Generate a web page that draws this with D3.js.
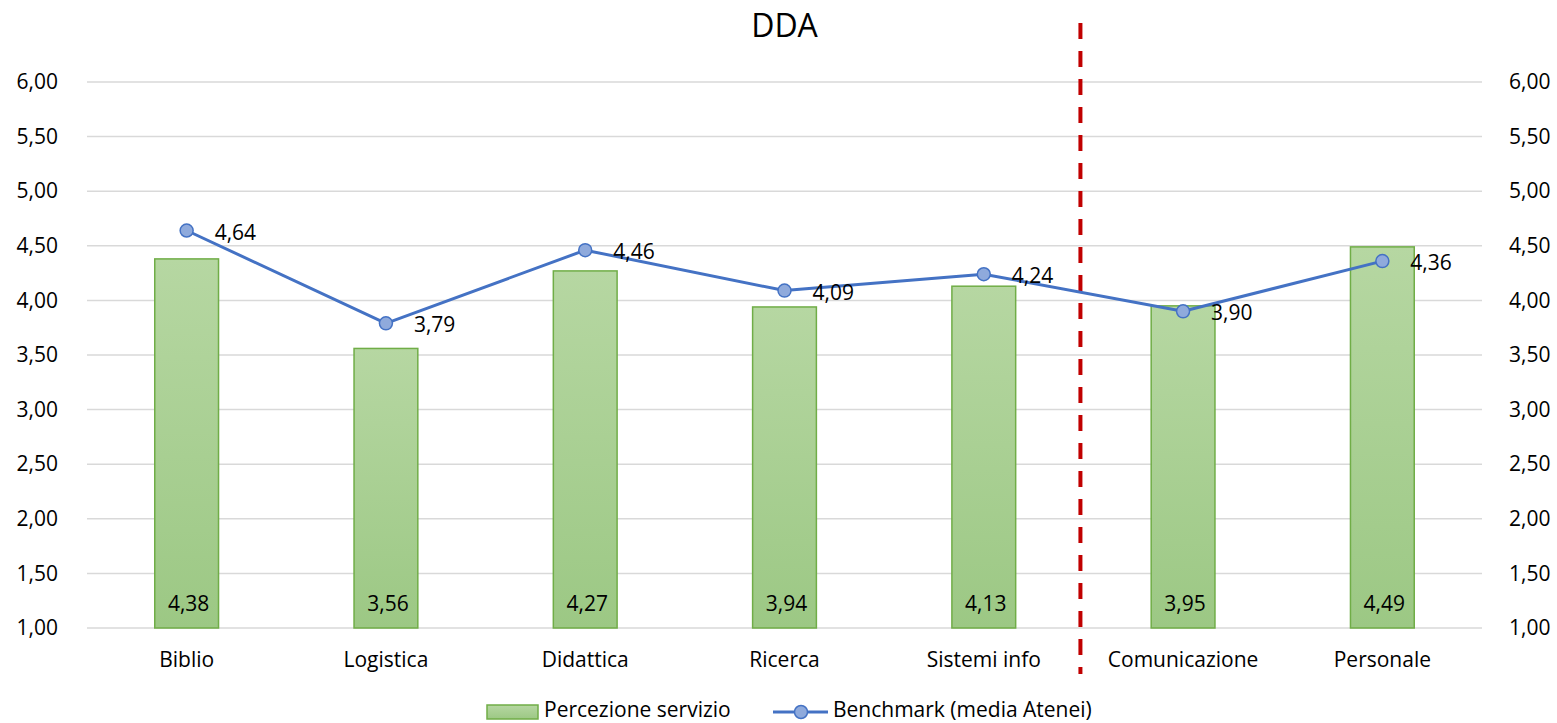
<!DOCTYPE html>
<html>
<head>
<meta charset="utf-8">
<script src="https://cdn.jsdelivr.net/npm/d3@7"></script>
<style>
  html, body { margin: 0; padding: 0; background: #fff; }
  svg { display: block; font-family: "Open Sans", "Noto Sans", sans-serif; }
</style>
</head>
<body>
<svg id="chart" width="1557" height="723"></svg>
<script>
const title = "DDA";
const categories = ["Biblio", "Logistica", "Didattica", "Ricerca", "Sistemi info", "Comunicazione", "Personale"];
const perceptionValues = [4.38, 3.56, 4.27, 3.94, 4.13, 3.95, 4.49];
const benchmarkValues = [4.64, 3.79, 4.46, 4.09, 4.24, 3.90, 4.36];
const yTicks = [1.0, 1.5, 2.0, 2.5, 3.0, 3.5, 4.0, 4.5, 5.0, 5.5, 6.0];
const seriesNames = ["Percezione servizio", "Benchmark (media Atenei)"];
const dividerAfter = "Sistemi info";

(function () {
const fmt = v => v.toFixed(2).replace(".", ",");
const FS = 21;

const svg = d3.select("#chart");
const pLeft = 87, pRight = 1482, pTop = 82, pBottom = 628;

const x = d3.scaleBand().domain(categories).range([pLeft, pRight]).padding(0);
const y = d3.scaleLinear().domain([1, 6]).range([pBottom, pTop]);
const barW = x.bandwidth() * 0.32;

const defs = svg.append("defs");
const grad = defs.append("linearGradient").attr("id", "barGrad")
  .attr("x1", 0).attr("y1", 0).attr("x2", 0).attr("y2", 1);
grad.append("stop").attr("offset", "0%").attr("stop-color", "#B6D7A2");
grad.append("stop").attr("offset", "100%").attr("stop-color", "#9CC884");

svg.append("text").attr("x", (pLeft + pRight) / 2).attr("y", 37)
  .attr("text-anchor", "middle").attr("font-size", 32).attr("fill", "#000").text(title);

svg.append("g").selectAll("line").data(yTicks).join("line")
  .attr("x1", pLeft).attr("x2", pRight)
  .attr("y1", d => y(d)).attr("y2", d => y(d))
  .attr("stroke", "#D9D9D9").attr("stroke-width", 1.5);

const yAxisL = d3.axisLeft(y).tickValues(yTicks).tickFormat(fmt).tickSize(0).tickPadding(0);
const gL = svg.append("g").attr("transform", `translate(${pLeft - 29},0)`).call(yAxisL);
gL.select(".domain").remove();
gL.selectAll("text").attr("font-size", FS).attr("fill", "#000").attr("font-family", "Open Sans");

const yAxisR = d3.axisRight(y).tickValues(yTicks).tickFormat(fmt).tickSize(0).tickPadding(0);
const gR = svg.append("g").attr("transform", `translate(${pRight + 27},0)`).call(yAxisR);
gR.select(".domain").remove();
gR.selectAll("text").attr("font-size", FS).attr("fill", "#000").attr("font-family", "Open Sans");

const xAxis = d3.axisBottom(x).tickSize(0).tickPadding(0);
const gX = svg.append("g").attr("transform", `translate(0,${pBottom})`).call(xAxis);
gX.select(".domain").remove();
gX.selectAll("text").attr("font-size", FS).attr("fill", "#000")
  .attr("font-family", "Open Sans").attr("dy", null).attr("y", 39);

const bars = categories.map((c, i) => ({ c, v: perceptionValues[i] }));
svg.append("g").selectAll("rect").data(bars).join("rect")
  .attr("x", d => x(d.c) + x.bandwidth() / 2 - barW / 2)
  .attr("width", barW)
  .attr("y", d => y(d.v))
  .attr("height", d => y(1) - y(d.v))
  .attr("fill", "url(#barGrad)")
  .attr("stroke", "#70AD47").attr("stroke-width", 1.5);

svg.append("g").selectAll("text").data(bars).join("text")
  .attr("x", d => x(d.c) + x.bandwidth() / 2 + 2)
  .attr("y", pBottom - 17)
  .attr("text-anchor", "middle").attr("font-size", FS).attr("fill", "#000")
  .text(d => fmt(d.v));

const divX = x(categories[categories.indexOf(dividerAfter) + 1]) - 3;
svg.append("line").attr("x1", divX).attr("x2", divX).attr("y1", 23).attr("y2", 674)
  .attr("stroke", "#C00000").attr("stroke-width", 4).attr("stroke-dasharray", "16,12");

const pts = categories.map((c, i) => ({ c, v: benchmarkValues[i] }));
const line = d3.line().x(d => x(d.c) + x.bandwidth() / 2).y(d => y(d.v));
svg.append("path").datum(pts).attr("d", line)
  .attr("fill", "none").attr("stroke", "#4472C4").attr("stroke-width", 3).attr("stroke-linejoin", "round");
svg.append("g").selectAll("circle").data(pts).join("circle")
  .attr("cx", d => x(d.c) + x.bandwidth() / 2).attr("cy", d => y(d.v)).attr("r", 6.5)
  .attr("fill", "#8FAADC").attr("stroke", "#4472C4").attr("stroke-width", 1.5);
svg.append("g").selectAll("text").data(pts).join("text")
  .attr("x", d => x(d.c) + x.bandwidth() / 2 + 28)
  .attr("y", d => y(d.v) + 9)
  .attr("font-size", FS).attr("fill", "#000")
  .text(d => fmt(d.v));

const lg = svg.append("g");
lg.append("rect").attr("x", 487).attr("y", 705).attr("width", 51).attr("height", 14)
  .attr("fill", "url(#barGrad)").attr("stroke", "#70AD47").attr("stroke-width", 1.5);
lg.append("text").attr("x", 544).attr("y", 717).attr("font-size", FS).attr("fill", "#000").text(seriesNames[0]);
lg.append("line").attr("x1", 773).attr("x2", 828).attr("y1", 712).attr("y2", 712)
  .attr("stroke", "#4472C4").attr("stroke-width", 3);
lg.append("circle").attr("cx", 801).attr("cy", 712).attr("r", 6.5)
  .attr("fill", "#8FAADC").attr("stroke", "#4472C4").attr("stroke-width", 1.5);
lg.append("text").attr("x", 833).attr("y", 717).attr("font-size", FS).attr("fill", "#000").text(seriesNames[1]);
})();
</script>
</body>
</html>
